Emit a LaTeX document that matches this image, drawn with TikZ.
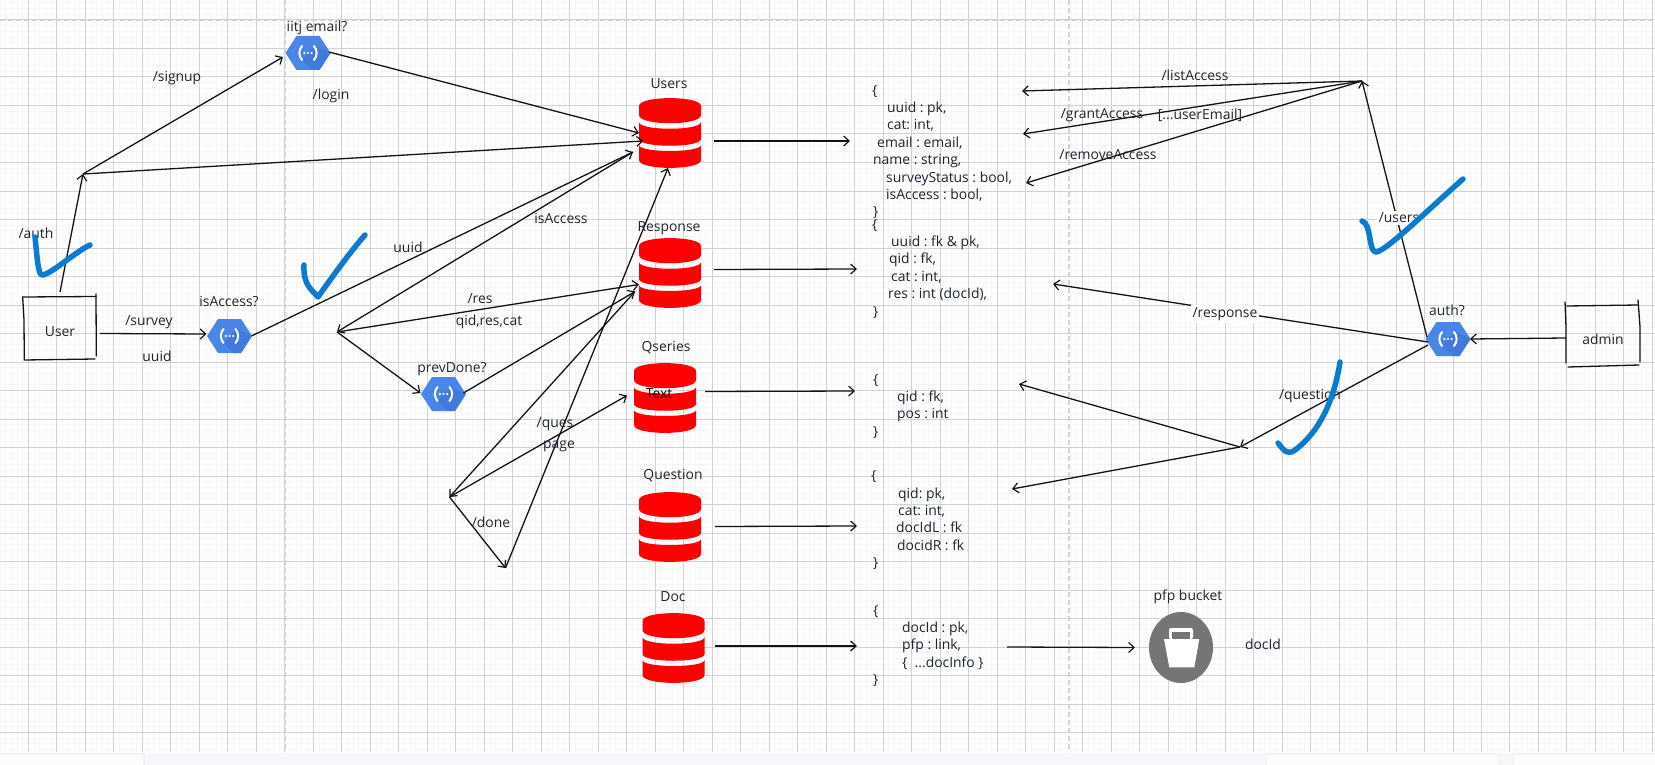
\documentclass[tikz,border=0pt]{standalone}
\usepackage{fontspec}
\setmainfont{Open Sans}
\usetikzlibrary{arrows.meta,shapes.geometric,calc}
\definecolor{gridmaj}{HTML}{D2D2D2}
\definecolor{gridmin}{HTML}{F6F6F6}
\definecolor{inkc}{HTML}{141414}
\definecolor{txtc}{HTML}{1D2530}
\definecolor{tickc}{HTML}{0B7AD1}
\definecolor{fnblue}{HTML}{4A86E8}
\definecolor{fndark}{HTML}{4279DB}
\definecolor{dbred}{HTML}{FF0000}
\definecolor{bktgrey}{HTML}{757575}
\definecolor{stripc}{HTML}{F6F7FA}
\tikzset{
  arr/.style={draw=inkc,line width=1.3pt,-{Straight Barb[length=5.5pt,width=10pt,line width=1.2pt]}},
  hand/.style={draw=inkc,line width=1.3pt,line cap=round},
  tick/.style={draw=tickc,line width=5.5pt,line cap=round,line join=round},
  lab/.style={font=\fontsize{13.9}{17.4}\selectfont\frenchspacing,text=txtc,inner sep=0pt},
  labbg/.style={lab,fill=white,inner sep=2pt},
  json/.style={lab,align=left,anchor=north west},
  anchorbox/.style={inner sep=0pt,outer sep=0pt},
}
% hexagon function icon; #1 name, #2 x, #3 y
\newcommand{\fnhex}[3]{%
  \node[anchorbox,minimum width=45pt,minimum height=34pt] (#1) at (#2,#3) {};
  \begin{scope}[shift={(#1.center)}]
    \fill[fnblue] (-22.5,0) -- (-11.5,-17) -- (11.5,-17) -- (22.5,0) -- (11.5,17) -- (-11.5,17) -- cycle;
    \fill[fndark] (7,-7) -- (22.5,0) -- (11.5,17) -- (4,17) -- (-6,7) -- cycle;
    \draw[white,line width=2pt,line cap=round] (-6,-7) .. controls (-9.5,-3) and (-9.5,3) .. (-6,7);
    \draw[white,line width=2pt,line cap=round] (6,-7) .. controls (9.5,-3) and (9.5,3) .. (6,7);
    \fill[white] (-3.6,0) circle (1.2) (0,0) circle (1.2) (3.6,0) circle (1.2);
  \end{scope}}
% three-layer database; #1 name, #2 x, #3 top y
\newcommand{\dbstack}[3]{%
  \node[anchorbox,minimum width=62pt,minimum height=70pt] (#1) at (#2,#3+35) {};
  \begin{scope}[shift={(#2,#3)}]
    \fill[dbred] (-31,8) .. controls (-31,-2.5) and (31,-2.5) .. (31,8) -- (31,17) .. controls (31,28) and (-31,28) .. (-31,17) -- cycle;
    \fill[dbred] (-31,24) .. controls (-31,33) and (31,33) .. (31,24) -- (31,41) .. controls (31,50) and (-31,50) .. (-31,41) -- cycle;
    \fill[dbred] (-31,47) .. controls (-31,55) and (31,55) .. (31,47) -- (31,62) .. controls (31,72.5) and (-31,72.5) .. (-31,62) -- cycle;
  \end{scope}}
\begin{document}
\begin{tikzpicture}[x=1pt,y=-1pt]
\useasboundingbox (0,0) rectangle (1655,765);
\fill[white] (0,0) rectangle (1655,765);
% grid
\foreach \k in {0,...,290} {\draw[gridmin,line width=1pt] ({\k*5.698},0) -- ({\k*5.698},752);}
\foreach \k in {0,...,133} {\draw[gridmin,line width=1pt] (0,{20+(\k-4)*5.7}) -- (1655,{20+(\k-4)*5.7});}
\foreach \k in {1,...,58} {\draw[gridmaj,line width=1pt] ({\k*28.49},0) -- ({\k*28.49},752);}
\foreach \k in {0,...,26} {\draw[gridmaj,line width=1pt] (0,{20+(\k-1)*28.5}) -- (1655,{20+(\k-1)*28.5});}
\draw[gridmaj,line width=1.4pt,dash pattern=on 5pt off 3pt] (0,20) -- (1655,20);
\draw[gridmaj,line width=1.4pt,dash pattern=on 5pt off 3pt] (285,0) -- (285,752);
\draw[gridmaj,line width=1.4pt,dash pattern=on 5pt off 3pt] (1069,0) -- (1069,752);
% bottom strip
\fill[stripc] (0,752.5) rectangle (1655,765);
\draw[fill=white!98!gray,draw=black!7,line width=1pt,rounded corners=3pt] (-5,770) -- (-5,753.5) -- (144,753.5) -- (144,770);
\draw[fill=white!98!gray,draw=black!7,line width=1pt,rounded corners=3pt] (1266,770) -- (1266,753.5) -- (1499,753.5) -- (1499,770);
\draw[fill=white!98!gray,draw=black!7,line width=1pt,rounded corners=3pt] (1513,770) -- (1513,753.5) -- (1660,753.5) -- (1660,770);

% icons
\fnhex{iitj}{308}{53}
\fnhex{isacc}{229.5}{336}
\fnhex{prev}{443.5}{394}
\fnhex{auth}{1448}{339}
\dbstack{usersdb}{670}{98}
\dbstack{respdb}{670}{238}
\dbstack{qserdb}{665}{363}
\dbstack{quesdb}{670}{492}
\dbstack{docdb}{673.5}{613}
\node[ellipse,fill=bktgrey,minimum width=64pt,minimum height=71pt,inner sep=0pt,outer sep=0pt] (bucket) at (1181,647.5) {};
\begin{scope}[shift={(bucket.center)}]
  \fill[white,rounded corners=2pt] (-12,-8.5) -- (-12,-19.5) -- (12,-19.5) -- (12,-8.5) -- cycle;
  \fill[bktgrey] (-8.8,-15.8) rectangle (9,-8.5);
  \fill[white] (-17,-8.5) -- (18.3,-8.5) -- (13.3,19.8) -- (-11.7,19.8) -- cycle;
\end{scope}

% boxes (hand drawn)
\node[lab,anchorbox,minimum width=73pt,minimum height=63pt] (user) at (60,332) {User};
\node[lab,anchorbox,minimum width=73pt,minimum height=63pt] (admin) at (1603,339) {admin};
\draw[hand] (22.7,297) -- (96,296.5);
\draw[hand] (22.7,297) -- (24,320) -- (24.3,360) -- (95,359);
\draw[hand] (96,294) -- (96.3,356);
\draw[hand] (1567,306) -- (1638,305);
\draw[hand] (1565,302) -- (1566,327) -- (1566,363);
\draw[hand] (1568,367) -- (1639,365);
\draw[hand] (1638,300) -- (1640,327) -- (1640,362);

% junctions and free ends
\coordinate (jA) at (83,174);
\coordinate (jB) at (337,332);
\coordinate (jC) at (449.5,497);
\coordinate (jD) at (505.5,568);
\coordinate (jE) at (1362,81);
\coordinate (jF) at (1240,447);
\coordinate (kA) at (1022,91);
\coordinate (kB) at (1023,134);
\coordinate (kC) at (1026,183);
\coordinate (kD) at (1053,284);
\coordinate (kE) at (1019,384);
\coordinate (kF) at (1012,489);
\coordinate (sA) at (850,141);
\coordinate (sB) at (857,269);
\coordinate (sC) at (855,391);
\coordinate (sD) at (857,526);
\coordinate (sE) at (857,646);

% connectors
\draw[arr] ([shift={(0,-40)}]user.center) -- (jA);
\draw[arr] (jA) -- ([shift={(-25,4)}]iitj.center);
\draw[arr] ([shift={(21,-1)}]iitj.center) -- ([shift={(-31,0)}]usersdb.center);
\draw[arr] (jA) -- ([shift={(-27,8)}]usersdb.center);
\draw[arr] ([shift={(40,1.5)}]user.center) -- ([shift={(-23,-2)}]isacc.center);
\draw[arr] ([shift={(22,0)}]isacc.center) -- ([shift={(-37,19)}]usersdb.center);
\draw[arr] ([shift={(-37,19)}]usersdb.center) -- (jB);
\draw[arr] (jB) -- ([shift={(-31,11.5)}]respdb.center);
\draw[arr] (jB) -- ([shift={(-23,-1)}]prev.center);
\draw[arr] ([shift={(20,-1)}]prev.center) -- ([shift={(-35,18.5)}]respdb.center);
\draw[arr] ([shift={(-35,18.5)}]respdb.center) -- (jC);
\draw[arr] (jC) -- ([shift={(-38,-2.5)}]qserdb.center);
\draw[arr] (jC) -- (jD);
\draw[arr] (jD) -- ([shift={(-2,35)}]usersdb.center);
\draw[arr] ([shift={(44,8)}]usersdb.center) -- (sA);
\draw[arr] ([shift={(44,-3.5)}]respdb.center) -- (sB);
\draw[arr] ([shift={(40,-6.5)}]qserdb.center) -- (sC);
\draw[arr] ([shift={(45,-0.5)}]quesdb.center) -- (sD);
\draw[arr] ([shift={(41.5,-2)}]docdb.center) -- (sE);
\coordinate (jdoc) at (1007,647);
\draw[arr] (jdoc) -- ([xshift=-14]bucket.west);
\draw[arr] ([shift={(-21,-2)}]auth.center) -- (jE);
\draw[arr] (jE) -- (kA);
\draw[arr] (jE) -- (kB);
\draw[arr] (jE) -- (kC);
\draw[arr] ([shift={(-20,3)}]auth.center) -- (kD);
\draw[arr] ([shift={(-20,6)}]auth.center) -- (jF);
\draw[arr] (jF) -- (kE);
\draw[arr] (jF) -- (kF);
\draw[arr] ([shift={(-37,-1)}]admin.center) -- ([xshift=22]auth.center);

% labels
\node[lab] (lsignup) at (177,78) {/signup};
\node[lab] (llogin) at (331,96) {/login};
\node[lab] (lauth) at (36,233) {/auth};
\node[lab] (lsurvey) at (149,322) {/survey};
\node[lab] (luuid) at (157,356) {uuid};
\node[lab] (lisq) at (229,301) {isAccess?};
\node[lab] (liitj) at (317,28) {iitj email?};
\node[lab] (luuidb) at (408,247) {uuid};
\node[lab] (lisa) at (561,218) {isAccess};
\node[lab] (lres) at (480,299) {/res};
\node[lab] (lqid) at (489,322) {qid,res,cat};
\node[lab] (lprev) at (452,369) {prevDone?};
\node[lab] (lques) at (555,424) {/ques};
\node[lab] (lpage) at (559,446) {page};
\node[lab] (ldone) at (491,522) {/done};
\node[lab] (lusers) at (669,84) {Users};
\node[lab] (lresp) at (669,228) {Response};
\node[lab] (lqser) at (666,348) {Qseries};
\node[lab,text=black] (ltext) at (659,394) {Text};
\node[lab] (lquest) at (673,476) {Question};
\node[lab] (ldoc) at (673,597) {Doc};
\node[lab] (lbucket) at (1188,597) {pfp bucket};
\node[lab] (ldocid) at (1263,644) {docId};
\node[lab] (lauthq) at (1447,310) {auth?};
\node[lab] (llist) at (1195,75) {/listAccess};
\node[lab] (lgrant) at (1102,115) {/grantAccess};
\node[lab] (lmail) at (1200,115) {[...userEmail]};
\node[lab] (lrem) at (1108,155) {/removeAccess};
\node[labbg] (lusr) at (1399,218) {/users};
\node[labbg] (lrsp) at (1225,314) {/response};
\node[lab] (lqst) at (1310,396) {/question};

% json blocks
\node[json] (jusers) at (872,85) {\{\\
\hspace*{15pt}uuid : pk,\\
\hspace*{15pt}cat: int,\\
\hspace*{5pt}email : email,\\
\hspace*{1pt}name : string,\\
\hspace*{14pt}surveyStatus : bool,\\
\hspace*{14pt}isAccess : bool,\\
\hspace*{1pt}\}};
\node[json] (jresp) at (872,219) {\{\\
\hspace*{19pt}uuid : fk \& pk,\\
\hspace*{17pt}qid : fk,\\
\hspace*{19pt}cat : int,\\
\hspace*{16pt}res : int (docId),\\
\hspace*{1pt}\}};
\node[json] (jqser) at (873,374) {\{\\
\hspace*{24pt}qid : fk,\\
\hspace*{24pt}pos : int\\
\}};
\node[json] (jques) at (871,470.5) {\{\\
\hspace*{27pt}qid: pk,\\
\hspace*{27pt}cat: int,\\
\hspace*{25pt}docIdL : fk\\
\hspace*{26pt}docidR : fk\\
\hspace*{2pt}\}};
\node[json] (jdocb) at (873,605) {\{\\
\hspace*{29pt}docId : pk,\\
\hspace*{29pt}pfp : link,\\
\hspace*{29pt}\{\ \ ...docInfo \}\\
\}};

% check marks
\draw[tick] (35,237) .. controls (37,255) and (38,275) .. (42,275) .. controls (50,275) and (75,252) .. (90,245);
\draw[tick] (304,265) .. controls (303,285) and (312,290) .. (318,297) .. controls (330,280) and (350,252) .. (365,235);
\draw[tick] (1362,221) .. controls (1372,224) and (1368,252) .. (1376,252) .. controls (1385,252) and (1430,208) .. (1463,179);
\draw[tick] (1340,362) .. controls (1335,395) and (1322,430) .. (1295,450) .. controls (1288,455) and (1285,452) .. (1278,443);
\end{tikzpicture}
\end{document}
